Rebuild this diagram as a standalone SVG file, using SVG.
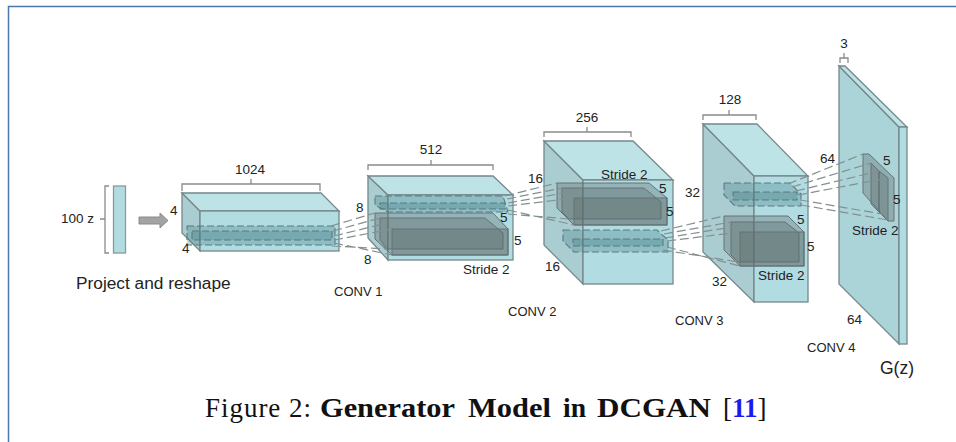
<svg xmlns="http://www.w3.org/2000/svg" width="956" height="442" viewBox="0 0 956 442">
<style>
text{font-family:"Liberation Sans",Arial,sans-serif;fill:#222;font-size:13.500px}
.c{text-anchor:middle}
.f{fill:#b0dce2;stroke:#76878a;stroke-width:1.300}
.t{fill:#bde3e7;stroke:#76878a;stroke-width:1.300}
.s{fill:#a9cdd1;stroke:#76878a;stroke-width:1.300}
.b{fill:none;stroke:#8a8a8a;stroke-width:1.300}
.d{fill:#5a6668;fill-opacity:.34;stroke:#667274;stroke-width:1}
.g{fill:#3f7a80;fill-opacity:.3;stroke:#5b7b7f;stroke-width:1.100;stroke-dasharray:7 3}
.k{fill:none;stroke:#84908f;stroke-width:1.200;stroke-dasharray:9 4}
.cap{font-family:"Liberation Serif","Times New Roman",serif;font-size:27px;fill:#111}
.l{font-size:13px}
</style>
<rect width="956" height="442" fill="#fff"/>
<path d="M956 6.500H8.500V442" fill="none" stroke="#4a78ad" stroke-width="1.500"/>

<g id="z-vector">
<path class="b" d="M109 186H105V253H109M105 219H100"/>
<rect x="113.500" y="186" width="12" height="67" fill="#b0dce2" stroke="#8a9a9c" stroke-width="1.300"/>
<text x="61" y="223">100 z</text>
<text x="76" y="289" style="font-size:17.300px">Project and reshape</text>
</g>
<path id="project-arrow" d="M139 217H160V213L168 220.500L160 228V224H139Z" fill="#a3a3a3" stroke="#8a8a8a"/>

<g id="block-1024">
<path class="b" d="M182 191V184H320V191M251 184V179"/>
<text class="c" x="250" y="174">1024</text>
<polygon class="s" points="182,193 200,211 200,251 182,233"/>
<polygon class="t" points="182,193 321,193 339,211 200,211"/>
<rect class="f" x="200" y="211" width="139" height="40"/>
<rect class="g" x="187" y="226" width="148" height="19"/>
<rect class="g" x="192" y="231" width="140" height="9"/>
<text x="170" y="215">4</text>
<text x="182" y="253">4</text>
</g>

<g id="block-512">
<path class="b" d="M368 170V165H493V170M431 165V160"/>
<text class="c" x="431" y="154">512</text>
<polygon class="s" points="368,176 388,195 388,260 368,238"/>
<polygon class="t" points="368,176 493,176 513,195 388,195"/>
<rect class="f" x="388" y="195" width="125" height="65"/>
<polygon class="d" points="375,213 493,213 508,229 508,255 392,255 375,239"/>
<polygon class="d" points="380,218 485,218 503,233 503,249 387,249 380,240"/>
<rect class="d" x="392" y="229" width="116" height="26"/>
<polygon class="g" points="375,196 503,196 508,212 388,212 375,205"/>
<rect class="g" x="380" y="203" width="125" height="6"/>
<text x="356" y="212">8</text>
<text x="364" y="264">8</text>
<text x="500" y="222">5</text>
<text x="514" y="245">5</text>
<text x="463" y="274">Stride 2</text>
</g>

<g id="block-256">
<path class="b" d="M544 137V132H631V137M587 132V127"/>
<text class="c" x="587" y="122">256</text>
<polygon class="s" points="544,141 583,180 583,284 544,245"/>
<polygon class="t" points="544,141 633,141 673,180 583,180"/>
<rect class="f" x="583" y="180" width="90" height="104"/>
<polygon class="d" points="557,183 649,183 667,198 667,225 574,225 557,208"/>
<polygon class="d" points="562,188 644,188 661,202 661,219 569,219 562,212"/>
<rect class="d" x="574" y="198" width="93" height="27"/>
<polygon class="g" points="563,230 657,230 668,240 668,252 574,252 563,241"/>
<rect class="g" x="573" y="239" width="90" height="7"/>
<text x="528" y="183">16</text>
<text x="545" y="271">16</text>
<text x="601" y="179">Stride 2</text>
<text x="659" y="193">5</text>
<text x="666" y="216">5</text>
</g>

<g id="block-128">
<path class="b" d="M703 120V115H756V120M729 115V110"/>
<text class="c" x="730" y="104">128</text>
<polygon class="s" points="703,124 754,176 754,302 703,252"/>
<polygon class="t" points="703,124 757,124 808,176 754,176"/>
<rect class="f" x="754" y="176" width="54" height="126"/>
<polygon class="g" points="724,183 790,183 801,194 801,206 735,206 724,195"/>
<rect class="g" x="733" y="192" width="64" height="8"/>
<polygon class="d" points="724,216 788,216 804,232 804,266 740,266 724,250"/>
<polygon class="d" points="731,222 785,222 799,233 799,262 738,262 731,255"/>
<rect class="d" x="740" y="232" width="64" height="34"/>
<text x="685" y="197">32</text>
<text x="712" y="286">32</text>
<text x="797" y="224">5</text>
<text x="807" y="251">5</text>
<text x="758" y="280">Stride 2</text>
</g>

<g id="block-3">
<path class="b" d="M840 63V58H848V63M844 58V53"/>
<text class="c" x="844" y="48">3</text>
<polygon class="f" points="839,66 899,127 899,344 839,284" style="fill:#abd4d8"/>
<polygon class="t" points="839,66 845,66 907,127 899,127"/>
<rect class="f" x="899" y="127" width="8" height="217"/>
<polygon class="d" points="863,154 869,154 894,178 894,221 888,221 863,193"/>
<polygon class="d" points="871,163 879,171 879,212 871,204"/>
<polygon class="d" points="879,171 888,178 888,221 879,212"/>
<text x="820" y="163">64</text>
<text x="847" y="324">64</text>
<text x="883" y="165">5</text>
<text x="893" y="204">5</text>
<text x="852" y="235">Stride 2</text>
<text x="880" y="374" style="font-size:17.500px">G(z)</text>
</g>

<g id="connectors">
<path class="k" d="M331 226L375 213M333 231L380 218M334 236L387 223M334 240L392 229M334 243L392 255M332 246L387 249"/>
<path class="k" d="M505 196L557 183M507 199L562 188M508 203L569 192M508 206L574 198M508 210L574 225M508 214L569 219"/>
<path class="k" d="M661 231L724 216M664 234L731 222M665 238L738 226M667 241L740 232M667 247L740 266M663 250L738 262"/>
<path class="k" d="M788 184L863 154M792 187L871 163M796 191L879 171M798 195L888 178M800 200L888 215M801 205L894 221"/>
</g>

<g id="conv-labels">
<text class="l" x="334" y="296">CONV 1</text>
<text class="l" x="508" y="316">CONV 2</text>
<text class="l" x="675" y="325">CONV 3</text>
<text class="l" x="807" y="352">CONV 4</text>
</g>

<g id="caption">
<text class="cap" x="205" y="417" textLength="106" lengthAdjust="spacing">Figure 2:</text>
<text class="cap" x="320" y="417" style="font-weight:bold" textLength="135" lengthAdjust="spacingAndGlyphs">Generator</text>
<text class="cap" x="468" y="417" style="font-weight:bold" textLength="83" lengthAdjust="spacingAndGlyphs">Model</text>
<text class="cap" x="563" y="417" style="font-weight:bold" textLength="23" lengthAdjust="spacingAndGlyphs">in</text>
<text class="cap" x="597" y="417" style="font-weight:bold" textLength="114" lengthAdjust="spacingAndGlyphs">DCGAN</text>
<text class="cap" x="723" y="417">[<tspan style="fill:#1a1aee;font-weight:bold">11</tspan>]</text>
</g>
</svg>
